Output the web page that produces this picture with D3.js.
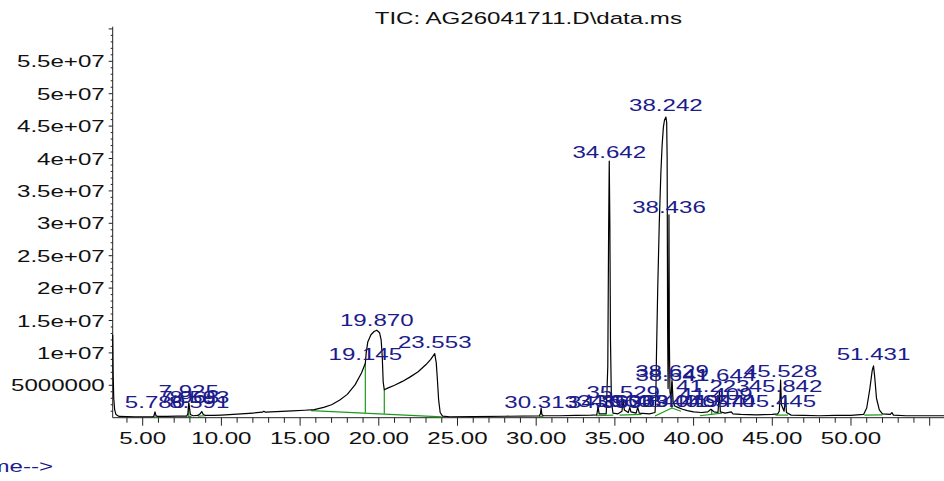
<!DOCTYPE html>
<html>
<head>
<meta charset="utf-8">
<script src="https://cdn.jsdelivr.net/npm/d3@7"></script>
<style>
  body { margin: 0; background: #fff; }
  svg { display: block; }
  text { font-family: "Liberation Sans", Arial, sans-serif; }
</style>
</head>
<body>
<div id="chart"></div>
<script>
// TIC trace (minutes, abundance)
var traceTime = [3.094, 3.12, 3.16, 3.22, 3.3, 3.5, 4.5, 5.65, 5.72, 5.78, 5.84, 5.95, 6.5, 7.2, 7.8, 7.87, 7.925, 7.97, 8.03, 8.2,
  8.5, 8.65, 8.75, 8.85, 9.0, 9.5, 10.0, 11.0, 12.0, 12.6, 12.7, 12.8, 13.5, 14.5, 15.3, 15.9, 16.5, 17.0, 17.5, 18.0,
  18.5, 18.9, 19.145, 19.2, 19.3, 19.5, 19.7, 19.87, 20.05, 20.15, 20.22, 20.28, 20.35, 20.6, 21.0, 21.5, 22.0, 22.5, 23.0, 23.3,
  23.553, 23.65, 23.72, 23.8, 23.9, 24.05, 24.5, 26.0, 28.0, 30.2, 30.27, 30.313, 30.36, 30.45, 31.5, 32.5, 33.5, 33.85, 33.93, 34.0,
  34.45, 34.55, 34.6, 34.642, 34.68, 34.72, 34.78, 34.88, 35.2, 35.45, 35.529, 35.6, 35.85, 35.95, 36.02, 36.35, 36.45, 36.55, 37.2, 37.55,
  37.6, 37.64, 37.72, 37.82, 37.92, 38.0, 38.08, 38.15, 38.242, 38.29, 38.32, 38.35, 38.38, 38.41, 38.436, 38.46, 38.5, 38.56, 38.629, 38.7,
  38.8, 39.0, 39.3, 39.6, 40.0, 40.5, 40.9, 41.1, 41.2, 41.3, 41.55, 41.644, 41.7, 42.0, 42.4, 42.5, 43.0, 44.0, 45.0, 45.35,
  45.445, 45.49, 45.528, 45.58, 45.75, 45.842, 45.9, 46.2, 47.0, 48.0, 49.0, 50.0, 50.8, 51.0, 51.2, 51.35, 51.431, 51.5, 51.62, 51.8,
  52.0, 52.5, 52.6, 52.7, 53.5, 55.91];
var traceAbund = [12.8e6, 7.0e6, 3.0e6, 1.2e6, 0.5e6, 0.2e6, 0.15e6, 0.15e6, 0.3e6, 0.9e6, 0.35e6, 0.2e6, 0.2e6, 0.25e6, 0.25e6, 0.6e6, 2.3e6, 1.6e6, 0.5e6, 0.3e6,
  0.35e6, 0.6e6, 0.95e6, 0.5e6, 0.35e6, 0.35e6, 0.4e6, 0.55e6, 0.72e6, 0.85e6, 1.0e6, 0.85e6, 0.95e6, 1.05e6, 1.15e6, 1.25e6, 1.6e6, 2.0e6, 2.7e6, 3.6e6,
  5.1e6, 6.9e6, 8.4e6, 10.0e6, 11.7e6, 12.8e6, 13.3e6, 13.5e6, 13.1e6, 12.0e6, 9.4e6, 5.5e6, 4.3e6, 4.6e6, 5.0e6, 5.6e6, 6.3e6, 7.1e6, 8.2e6, 9.0e6,
  9.9e6, 8.5e6, 6.0e6, 2.8e6, 0.8e6, 0.25e6, 0.15e6, 0.18e6, 0.22e6, 0.28e6, 0.6e6, 1.5e6, 0.5e6, 0.3e6, 0.3e6, 0.35e6, 0.4e6, 0.45e6, 1.7e6, 0.6e6,
  0.6e6, 8.0e6, 28.0e6, 39.6e6, 30.0e6, 12.0e6, 2.5e6, 0.7e6, 0.6e6, 1.0e6, 2.8e6, 1.2e6, 0.8e6, 1.6e6, 0.9e6, 0.7e6, 1.6e6, 0.7e6, 0.6e6, 0.8e6,
  3.0e6, 9.4e6, 19.7e6, 30.0e6, 37.7e6, 42.0e6, 44.8e6, 45.9e6, 46.4e6, 45.6e6, 40.0e6, 14.0e6, 4.5e6, 12.0e6, 31.3e6, 12.0e6, 4.0e6, 3.0e6, 5.8e6, 2.5e6,
  1.8e6, 1.6e6, 1.3e6, 1.1e6, 0.9e6, 0.8e6, 0.9e6, 1.3e6, 1.1e6, 0.9e6, 0.8e6, 4.0e6, 0.9e6, 0.7e6, 0.9e6, 0.6e6, 0.5e6, 0.45e6, 0.5e6, 0.6e6,
  1.0e6, 3.0e6, 5.8e6, 2.0e6, 1.0e6, 3.2e6, 0.8e6, 0.4e6, 0.35e6, 0.3e6, 0.35e6, 0.35e6, 0.5e6, 1.5e6, 4.5e6, 7.3e6, 8.0e6, 6.5e6, 3.0e6, 1.2e6,
  0.6e6, 0.5e6, 0.8e6, 0.4e6, 0.3e6, 0.3e6];

// integration baselines and drop lines: [t1, v1, t2, v2]
var baseSegments = [
  [5.65, 0.12e6, 5.95, 0.12e6], [7.85, 0.2e6, 8.1, 0.2e6], [7.925, 0.2e6, 7.925, 2.2e6],
  [8.5, 0.25e6, 9.0, 0.3e6], [15.7, 1.1e6, 24.0, 0.12e6], [19.145, 0.75e6, 19.145, 8.4e6],
  [20.35, 0.6e6, 20.35, 4.3e6], [30.2, 0.2e6, 30.45, 0.2e6], [33.8, 0.3e6, 34.9, 0.4e6],
  [35.3, 0.4e6, 36.7, 0.5e6], [37.55, 0.25e6, 38.62, 1.5e6], [38.62, 1.5e6, 38.62, 5.5e6],
  [38.62, 1.5e6, 39.2, 1.0e6], [40.4, 0.3e6, 41.8, 0.7e6], [41.15, 0.5e6, 41.15, 1.2e6],
  [45.2, 0.4e6, 46.0, 0.4e6], [50.85, 0.4e6, 52.0, 0.45e6]
];

// peak labels: retention time and the abundance of the label's baseline
var peakLabels = ["5.780", "7.925", "7.965", "8.593", "8.591", "19.145", "19.870", "23.553", "30.313", "34.353",
  "34.960", "35.529", "36.063", "36.484", "34.642", "38.242", "38.436", "38.629", "38.641", "39.046",
  "41.644", "41.223", "41.409", "40.944", "41.570", "45.528", "45.842", "45.445", "51.431"];
var peakTimes = [5.780, 7.925, 7.965, 8.593, 8.591, 19.145, 19.870, 23.553, 30.313, 34.353,
  34.960, 35.529, 36.063, 36.484, 34.642, 38.242, 38.436, 38.629, 38.641, 39.046,
  41.644, 41.223, 41.409, 40.944, 41.570, 45.528, 45.842, 45.445, 51.431];
var labelLevels = [1.5e6, 3.2e6, 2.3e6, 2.3e6, 1.5e6, 8.9e6, 14.15e6, 10.76e6, 1.5e6, 1.5e6,
  1.6e6, 3.0e6, 1.6e6, 1.6e6, 40.1e6, 47.4e6, 31.6e6, 6.3e6, 5.7e6, 1.6e6,
  5.7e6, 4.0e6, 2.8e6, 1.6e6, 1.6e6, 6.3e6, 4.0e6, 1.65e6, 8.9e6];

var yTickValues = [5e6, 1e7, 1.5e7, 2e7, 2.5e7, 3e7, 3.5e7, 4e7, 4.5e7, 5e7, 5.5e7];
var yTickLabels = ["5000000", "1e+07", "1.5e+07", "2e+07", "2.5e+07", "3e+07", "3.5e+07", "4e+07", "4.5e+07", "5e+07", "5.5e+07"];
var xTickValues = [5, 10, 15, 20, 25, 30, 35, 40, 45, 50];
var xTickLabels = ["5.00", "10.00", "15.00", "20.00", "25.00", "30.00", "35.00", "40.00", "45.00", "50.00"];

(function() {
  var width = 944, height = 481;
  var plotL = 112.7, plotB = 417.7, plotT = 26.7, plotR = 944;
  var sx = 1.46, fontSize = 16.5;   // the picture's lettering is stretched sideways
  var navy = "#1c1c8c", green = "#1a9a1a";

  var svg = d3.select("#chart").append("svg")
    .attr("width", width).attr("height", height);

  var x = d3.scaleLinear().domain([3.094, 55.91]).range([plotL, plotR]);
  var y = d3.scaleLinear().domain([0, 6.034e7]).range([plotB, plotT]);

  function label(g, px, py, str, anchor, color) {
    g.append("g")
      .attr("transform", "translate(" + px + "," + py + ") scale(" + sx + ",1)")
      .append("text")
      .attr("text-anchor", anchor)
      .attr("font-size", fontSize)
      .attr("fill", color)
      .text(str);
  }

  // title
  label(svg, (plotL + plotR) / 2, 24, "TIC: AG26041711.D\\data.ms", "middle", "#111");

  // axes
  var axes = svg.append("g").attr("stroke", "#222").attr("stroke-width", 1);
  axes.append("line").attr("x1", plotL).attr("x2", plotL).attr("y1", plotT).attr("y2", plotB);
  axes.append("line").attr("x1", plotL).attr("x2", plotR).attr("y1", plotB).attr("y2", plotB);

  d3.range(1e6, 6.01e7, 1e6).forEach(function(v) {
    var major = Math.round(v / 1e6) % 5 === 0;
    axes.append("line").attr("x1", plotL - (major ? 4 : 2)).attr("x2", plotL)
      .attr("y1", y(v)).attr("y2", y(v));
  });
  yTickValues.forEach(function(v, i) {
    label(svg, plotL - 8, y(v) + 6, yTickLabels[i], "end", "#111");
  });

  d3.range(4, 56, 1).forEach(function(t) {
    var major = t % 5 === 0;
    axes.append("line").attr("x1", x(t)).attr("x2", x(t))
      .attr("y1", plotB).attr("y2", plotB + (major ? 8 : 5));
  });
  xTickValues.forEach(function(t, i) {
    label(svg, x(t), plotB + 26, xTickLabels[i], "middle", "#111");
  });

  label(svg, 53, 472, "Time-->", "end", navy);

  // integration marks
  svg.append("g").selectAll("line").data(baseSegments).join("line")
    .attr("x1", function(d) { return x(d[0]); })
    .attr("y1", function(d) { return y(d[1]); })
    .attr("x2", function(d) { return x(d[2]); })
    .attr("y2", function(d) { return y(d[3]); })
    .attr("stroke", green).attr("stroke-width", 1.2);

  // trace
  var pts = traceTime.map(function(t, i) { return [t, traceAbund[i]]; });
  svg.append("path")
    .datum(pts)
    .attr("fill", "none")
    .attr("stroke", "#000")
    .attr("stroke-width", 1.2)
    .attr("stroke-linejoin", "round")
    .attr("d", d3.line().x(function(d) { return x(d[0]); }).y(function(d) { return y(d[1]); }));

  // peak labels
  peakLabels.forEach(function(s, i) {
    label(svg, x(peakTimes[i]), y(labelLevels[i]), s, "middle", navy);
  });
})();
</script>
</body>
</html>
